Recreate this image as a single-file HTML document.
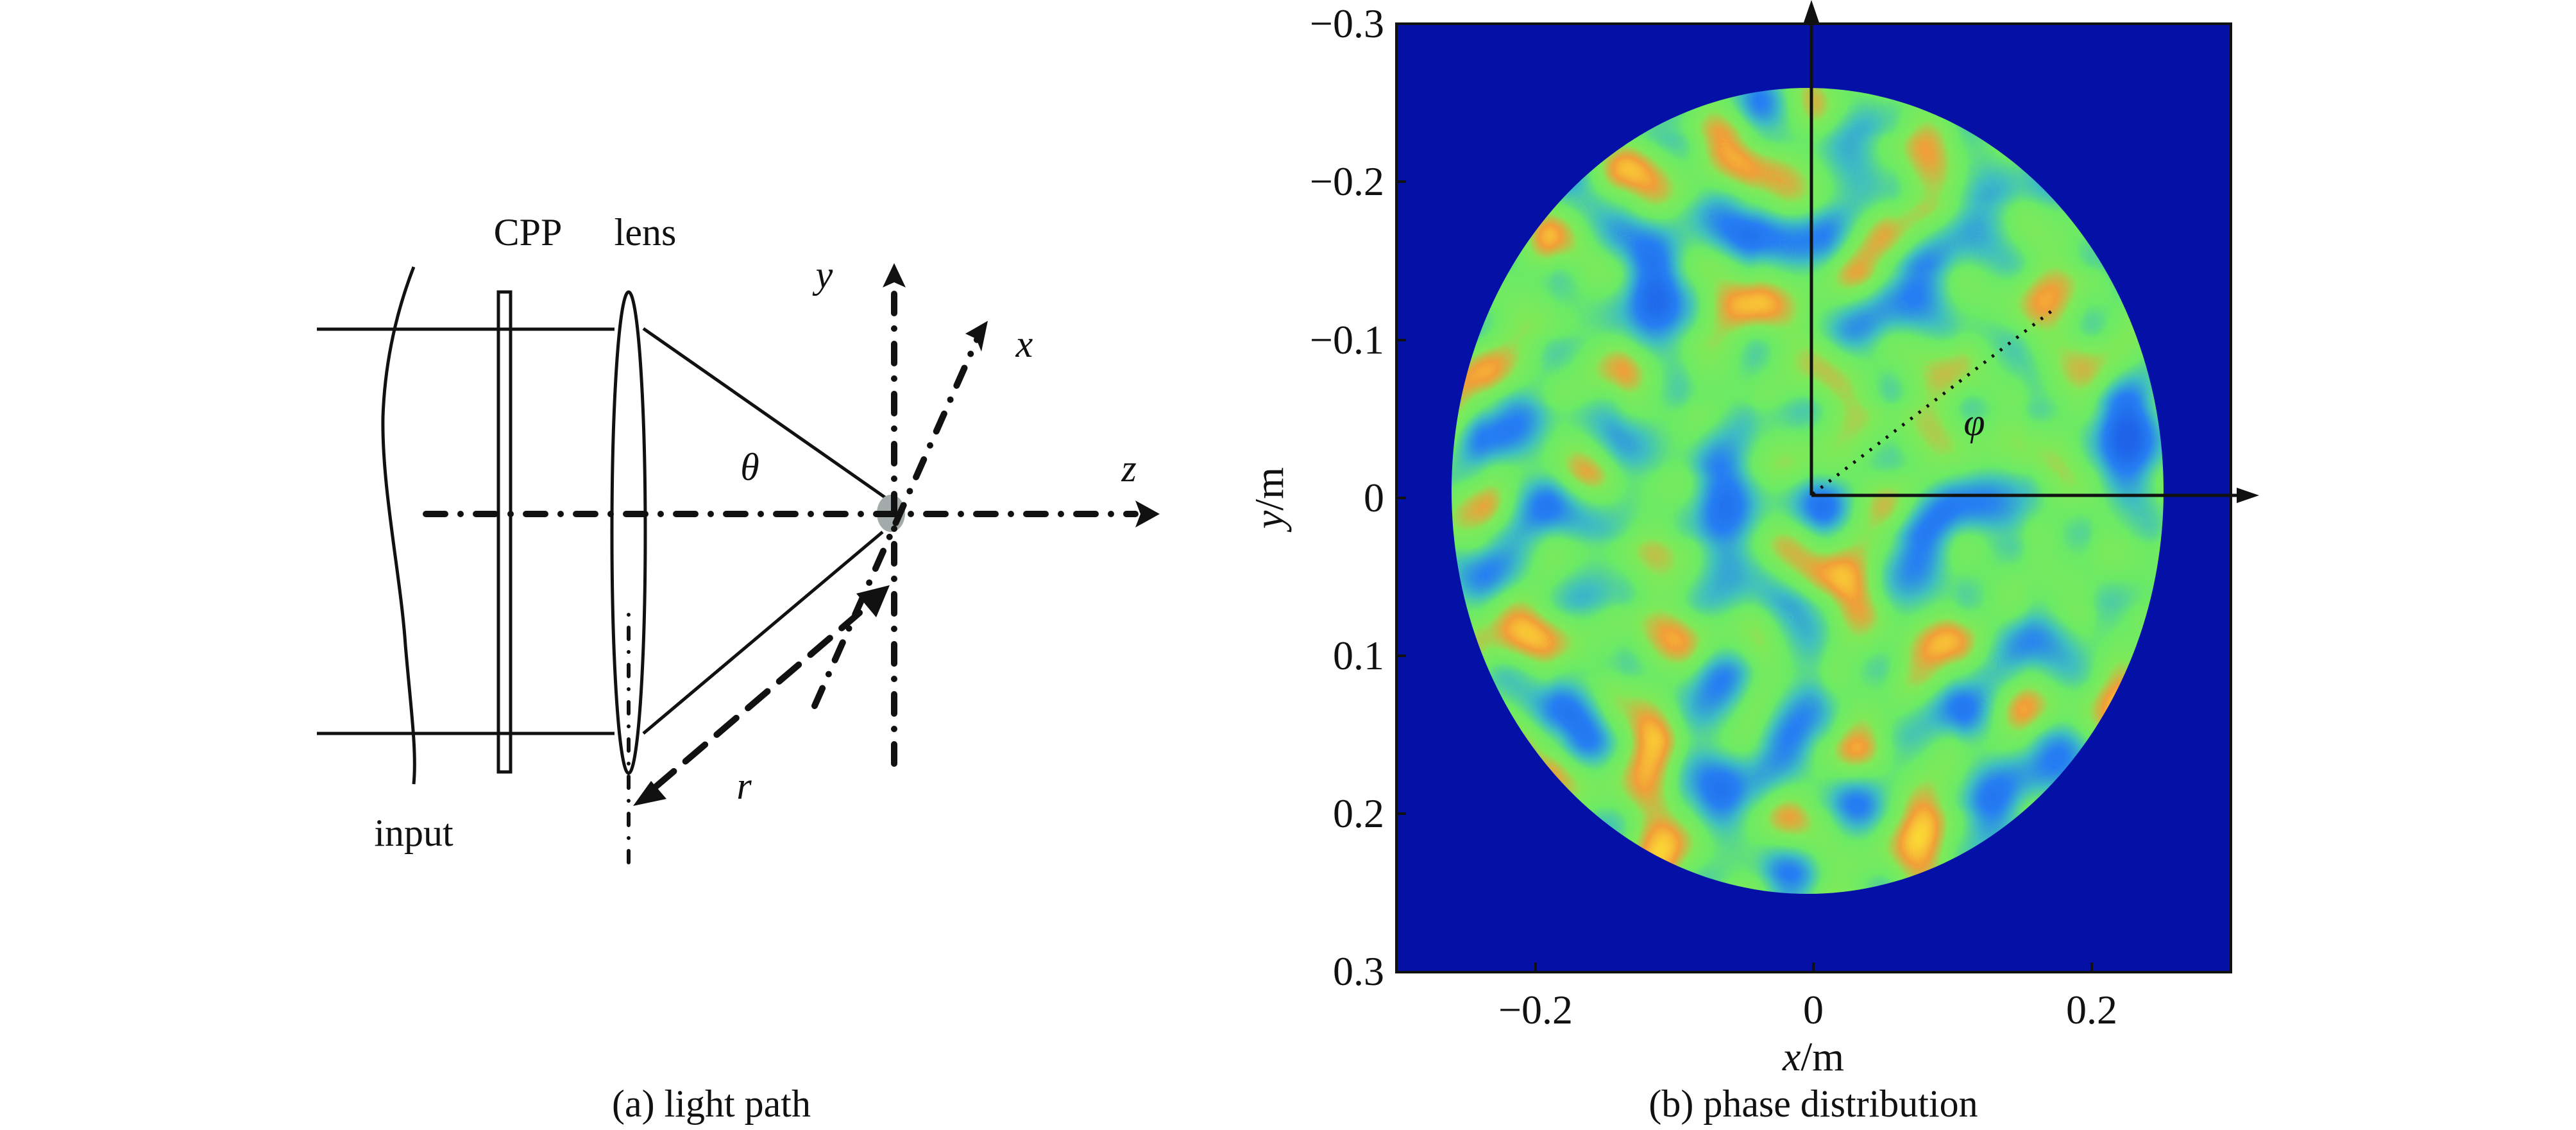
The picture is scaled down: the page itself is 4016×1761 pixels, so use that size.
<!DOCTYPE html>
<html><head><meta charset="utf-8"><style>
html,body{margin:0;padding:0;background:#fff;}
svg{display:block;}
text{font-family:"Liberation Serif","Times New Roman",serif;fill:#111;}
</style></head><body>
<svg width="4016" height="1761" viewBox="0 0 4016 1761" xmlns="http://www.w3.org/2000/svg">
<defs>
<filter id="noise" x="0" y="0" width="100%" height="100%" filterUnits="userSpaceOnUse" color-interpolation-filters="sRGB">
<feTurbulence type="fractalNoise" baseFrequency="0.0095" numOctaves="1" seed="11" result="t"/>
<feColorMatrix type="matrix" values="1 0 0 0 0  1 0 0 0 0  1 0 0 0 0  0 0 0 0 1"/>
<feComponentTransfer>
<feFuncR type="table" tableValues="0.12 0.12 0.12 0.15 0.25 0.42 0.5 0.95 1 1 1"/>
<feFuncG type="table" tableValues="0.35 0.35 0.4 0.5 0.75 0.92 0.92 0.62 0.95 1 1"/>
<feFuncB type="table" tableValues="0.9 0.9 0.92 0.95 0.75 0.4 0.35 0.22 0.2 0.2 0.2"/>
</feComponentTransfer>
</filter>
<clipPath id="ell"><ellipse cx="2818" cy="765" rx="555" ry="628"/></clipPath>
</defs>

<!-- Panel (a) -->
<g stroke="#111" fill="none" stroke-width="5">
<line x1="494" y1="513" x2="958" y2="513"/>
<line x1="494" y1="1143" x2="958" y2="1143"/>
<path d="M645 416 C620 480 600 560 597 650 C595 760 625 900 632 1005 C640 1100 650 1170 645 1222"/>
<rect x="777" y="455" width="19" height="748"/>
<ellipse cx="980" cy="830" rx="26" ry="375"/>
<line x1="1003" y1="512" x2="1381" y2="776"/>
<line x1="1003" y1="1143" x2="1376" y2="829"/>
</g>
<ellipse cx="1389" cy="800" rx="22" ry="29" fill="#a2aaaa"/>
<g stroke="#111" fill="none" stroke-width="10" stroke-linecap="round">
<line x1="664" y1="801" x2="1770" y2="801" stroke-dasharray="30 24 0 24"/>
<line x1="1394" y1="1190" x2="1394" y2="440" stroke-dasharray="30 24 0 24"/>
<line x1="1270" y1="1100" x2="1525" y2="525" stroke-dasharray="30 24 0 24"/>
<line x1="980" y1="1344" x2="980" y2="950" stroke-width="6" stroke-dasharray="18 20 0 20"/>
<line x1="1020" y1="1228" x2="1340" y2="955" stroke-dasharray="40 24"/>
</g>
<g fill="#111">
<polygon points="1808,801 1770,780 1778,801 1770,822"/>
<polygon points="1394,410 1376,448 1394,440 1412,448"/>
<polygon points="1540,500 1505,520 1522,528 1530,548"/>
<polygon points="1335,925 1387,912 1366,962"/>
<polygon points="987,1256 1039,1245 1015,1217"/>
</g>
<g font-size="60">
<text x="823" y="382" text-anchor="middle">CPP</text>
<text x="1006" y="382" text-anchor="middle">lens</text>
<text x="1285" y="448" font-style="italic" text-anchor="middle">y</text>
<text x="1597" y="556" font-style="italic" text-anchor="middle">x</text>
<text x="1169" y="748" font-style="italic" text-anchor="middle">θ</text>
<text x="1760" y="750" font-style="italic" text-anchor="middle">z</text>
<text x="1160" y="1245" font-style="italic" text-anchor="middle">r</text>
<text x="645" y="1318" text-anchor="middle">input</text>
<text x="1109" y="1740" text-anchor="middle">(a) light path</text>
</g>

<!-- Panel (b) -->
<rect x="2177" y="37" width="1301" height="1478" fill="#0410A6"/>
<g clip-path="url(#ell)">
<rect x="2260" y="135" width="1120" height="1262" filter="url(#noise)"/>
</g>
<rect x="2177" y="37" width="1301" height="1478" fill="none" stroke="#111" stroke-width="4"/>
<g stroke="#111" stroke-width="4">
<line x1="2394" y1="1515" x2="2394" y2="1500"/>
<line x1="2827" y1="1515" x2="2827" y2="1500"/>
<line x1="3261" y1="1515" x2="3261" y2="1500"/>
<line x1="2177" y1="283" x2="2192" y2="283"/>
<line x1="2177" y1="530" x2="2192" y2="530"/>
<line x1="2177" y1="776" x2="2192" y2="776"/>
<line x1="2177" y1="1022" x2="2192" y2="1022"/>
<line x1="2177" y1="1268" x2="2192" y2="1268"/>
</g>
<g stroke="#111" stroke-width="5" fill="none">
<line x1="2824" y1="772" x2="2824" y2="25"/>
<line x1="2824" y1="772" x2="3495" y2="772"/>
<line x1="2826" y1="770" x2="3198" y2="485" stroke-dasharray="4 12" stroke-width="5"/>
</g>
<polygon points="2824,0 2812,35 2836,35" fill="#111"/>
<polygon points="3522,772 3487,760 3487,784" fill="#111"/>
<text x="3078" y="678" font-size="60" font-style="italic" text-anchor="middle">φ</text>
<g font-size="64" text-anchor="end">
<text x="2158" y="58">−0.3</text>
<text x="2158" y="304">−0.2</text>
<text x="2158" y="551">−0.1</text>
<text x="2158" y="797">0</text>
<text x="2158" y="1043">0.1</text>
<text x="2158" y="1289">0.2</text>
<text x="2158" y="1535">0.3</text>
</g>
<g font-size="64" text-anchor="middle">
<text x="2394" y="1595">−0.2</text>
<text x="2827" y="1595">0</text>
<text x="3261" y="1595">0.2</text>
<text x="2827" y="1668"><tspan font-style="italic">x</tspan>/m</text>
</g>
<text transform="translate(2000,776) rotate(-90)" font-size="64" text-anchor="middle"><tspan font-style="italic">y</tspan>/m</text>
<text x="2827" y="1740" font-size="60" text-anchor="middle">(b) phase distribution</text>
</svg>
</body></html>
